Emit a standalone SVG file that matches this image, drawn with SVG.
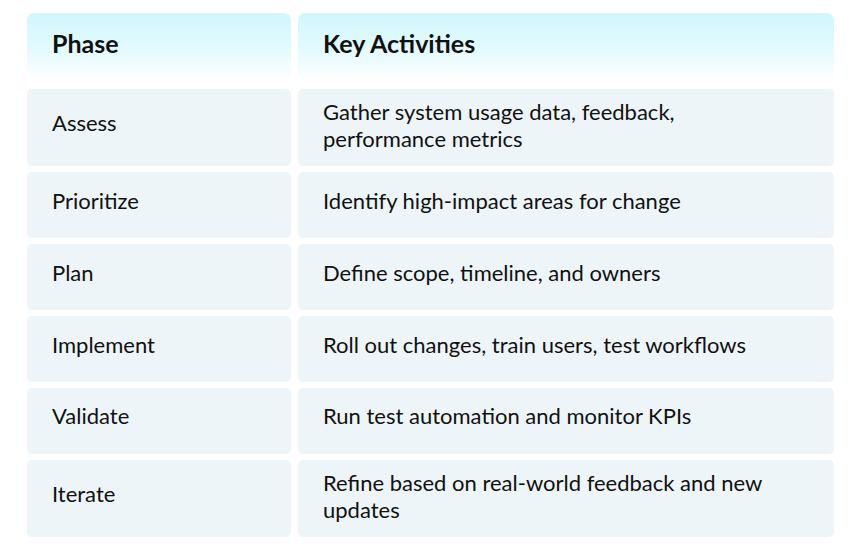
<svg xmlns="http://www.w3.org/2000/svg" width="861" height="550" viewBox="0 0 861 550">
<defs>
<linearGradient id="hg" x1="0" y1="0" x2="0" y2="1">
<stop offset="0" stop-color="#D0F7FD"/><stop offset="0.55" stop-color="#E4FAFD"/><stop offset="1" stop-color="#FFFFFF"/>
</linearGradient>
<style>
.c{fill:#EDF5F8}
.h{fill:url(#hg)}
text{font-family:"Lato","Noto Sans",sans-serif;fill:#111;font-size:22px}
.b{font-weight:bold;font-size:25px}
</style>
</defs>
<rect width="861" height="550" fill="#fff"/>
<g id="header">
<rect class="h" x="27" y="13" width="264" height="68" rx="7"/>
<rect class="h" x="298" y="13" width="536" height="68" rx="7"/>
<text class="b" x="52" y="53">Phase</text>
<text class="b" x="323" y="53">Key Activities</text>
</g>
<g id="row-assess">
<rect class="c" x="27" y="89" width="264" height="77" rx="5"/>
<rect class="c" x="298" y="89" width="536" height="77" rx="5"/>
<text x="52" y="131">Assess</text>
<text x="323" y="120">Gather system usage data, feedback,</text>
<text x="323" y="147">performance metrics</text>
</g>
<g id="row-prioritize">
<rect class="c" x="27" y="172" width="264" height="66" rx="5"/>
<rect class="c" x="298" y="172" width="536" height="66" rx="5"/>
<text x="52" y="209">Prioritize</text>
<text x="323" y="209">Identify high-impact areas for change</text>
</g>
<g id="row-plan">
<rect class="c" x="27" y="244" width="264" height="66" rx="5"/>
<rect class="c" x="298" y="244" width="536" height="66" rx="5"/>
<text x="52" y="281">Plan</text>
<text x="323" y="281">Define scope, timeline, and owners</text>
</g>
<g id="row-implement">
<rect class="c" x="27" y="316" width="264" height="66" rx="5"/>
<rect class="c" x="298" y="316" width="536" height="66" rx="5"/>
<text x="52" y="353">Implement</text>
<text x="323" y="353">Roll out changes, train users, test workflows</text>
</g>
<g id="row-validate">
<rect class="c" x="27" y="388" width="264" height="66" rx="5"/>
<rect class="c" x="298" y="388" width="536" height="66" rx="5"/>
<text x="52" y="424">Validate</text>
<text x="323" y="424">Run test automation and monitor KPIs</text>
</g>
<g id="row-iterate">
<rect class="c" x="27" y="460" width="264" height="77" rx="5"/>
<rect class="c" x="298" y="460" width="536" height="77" rx="5"/>
<text x="52" y="502">Iterate</text>
<text x="323" y="491">Refine based on real-world feedback and new</text>
<text x="323" y="518">updates</text>
</g>
<g id="connectors"/>
</svg>
